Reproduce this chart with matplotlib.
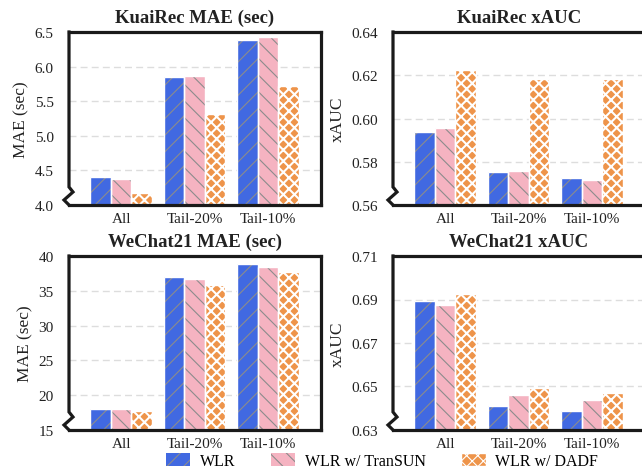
import matplotlib
matplotlib.use("Agg")
import matplotlib.pyplot as plt
from matplotlib.lines import Line2D
import numpy as np

plt.rcParams['font.family'] = ['Liberation Serif', 'DejaVu Serif']
plt.rcParams['hatch.linewidth'] = 0.8

categories = ['All', 'Tail-20%', 'Tail-10%']
series_names = ['WLR', 'WLR w/ TranSUN', 'WLR w/ DADF']

kuai_mae_wlr = [4.40, 5.85, 6.38]
kuai_mae_transun = [4.38, 5.86, 6.43]
kuai_mae_dadf = [4.18, 5.32, 5.72]

kuai_xauc_wlr = [0.5938, 0.5751, 0.5723]
kuai_xauc_transun = [0.5955, 0.5755, 0.5717]
kuai_xauc_dadf = [0.6224, 0.6182, 0.6182]

wechat_mae_wlr = [18.03, 37.05, 38.88]
wechat_mae_transun = [18.00, 36.70, 38.45]
wechat_mae_dadf = [17.70, 35.86, 37.63]

wechat_xauc_wlr = [0.6894, 0.6411, 0.6389]
wechat_xauc_transun = [0.6874, 0.6460, 0.6440]
wechat_xauc_dadf = [0.6925, 0.6491, 0.6469]

titles = ['KuaiRec MAE (sec)', 'KuaiRec xAUC', 'WeChat21 MAE (sec)', 'WeChat21 xAUC']
ylabels = ['MAE (sec)', 'xAUC', 'MAE (sec)', 'xAUC']
yticks = [[4.0, 4.5, 5.0, 5.5, 6.0, 6.5],
          [0.56, 0.58, 0.60, 0.62, 0.64],
          [15, 20, 25, 30, 35, 40],
          [0.63, 0.65, 0.67, 0.69, 0.71]]
yfmt = ['{:.1f}', '{:.2f}', '{:.0f}', '{:.2f}']
panels = [
    [kuai_mae_wlr, kuai_mae_transun, kuai_mae_dadf],
    [kuai_xauc_wlr, kuai_xauc_transun, kuai_xauc_dadf],
    [wechat_mae_wlr, wechat_mae_transun, wechat_mae_dadf],
    [wechat_xauc_wlr, wechat_xauc_transun, wechat_xauc_dadf],
]

colors = ['#4169E1', '#F5B3C1', '#EE944A']
hatches = ['//', '\\\\', 'xxx']
hatch_colors = ['#8c8c8c', '#8c8c8c', 'white']
hatch_lws = [0.8, 0.8, 1.5]

W, H = 642, 477
fig = plt.figure(figsize=(W / 100, H / 100), dpi=100)
rects = [
    (69, 33, 252, 173),
    (393, 33, 252, 173),
    (69, 257, 252, 174),
    (393, 257, 252, 174),
]
spine_c = '#1a1a1a'
spine_lw = 2.3
width = 0.28
x = np.arange(len(categories))
legend_handles = []

for i, (l, t, w, h) in enumerate(rects):
    ax = fig.add_axes([l / W, 1 - (t + h) / H, w / W, h / H])
    data = panels[i]
    for j in range(3):
        xs = x + (j - 1) * width
        with plt.rc_context({'hatch.linewidth': hatch_lws[j]}):
            if j < 2:
                b = ax.bar(xs, data[j], width, color=colors[j], edgecolor=hatch_colors[j],
                           hatch=hatches[j], linewidth=0, zorder=2)
                ax.bar(xs, data[j], width, fill=False, edgecolor='white', linewidth=1.0, zorder=3)
            else:
                b = ax.bar(xs, data[j], width, color=colors[j], edgecolor='white',
                           hatch=hatches[j], linewidth=1.0, zorder=2)
        for p in b.patches:
            try:
                p.set_hatch_linewidth(hatch_lws[j])
            except Exception:
                pass
        if i == 0:
            legend_handles.append(b)
    yt = yticks[i]
    ax.set_ylim(yt[0], yt[-1])
    ax.set_yticks(yt)
    ax.set_yticklabels([yfmt[i].format(v) for v in yt])
    ax.set_xlim(-0.71, 2.72)
    ax.set_xticks(x)
    ax.set_xticklabels(categories)
    ax.tick_params(axis='both', length=0, labelsize=11, colors='#222222')
    ax.tick_params(axis='y', pad=11)
    ax.tick_params(axis='x', pad=5)
    ax.set_ylabel(ylabels[i], fontsize=12.5, labelpad=4, color='#222222')
    ax.set_title(titles[i], fontsize=13.5, fontweight='bold', pad=7, color='#222222')
    ax.set_axisbelow(True)
    ax.yaxis.grid(True, linestyle=(0, (5, 3)), color='#dddddd', linewidth=1.0, zorder=0)
    for s in ['top', 'right', 'bottom']:
        ax.spines[s].set_linewidth(spine_lw)
        ax.spines[s].set_color(spine_c)
        ax.spines[s].set_zorder(5)
    ax.spines['left'].set_visible(False)
    bx = [0, 0, 4 / w, -5 / w, 0]
    by = [1, 18 / h, 13 / h, 5 / h, 0]
    ax.add_line(Line2D(bx, by, transform=ax.transAxes, color=spine_c, linewidth=spine_lw,
                       clip_on=False, zorder=6, solid_joinstyle='miter',
                       solid_capstyle='projecting'))

fig.legend(legend_handles, series_names, loc='center', bbox_to_anchor=(0.595, 0.031),
           ncol=3, frameon=False, fontsize=11.5, handlelength=1.55, handleheight=0.9,
           handletextpad=0.6, columnspacing=2.2, borderaxespad=0, borderpad=0.2)

fig.savefig('out.png', dpi=100)
